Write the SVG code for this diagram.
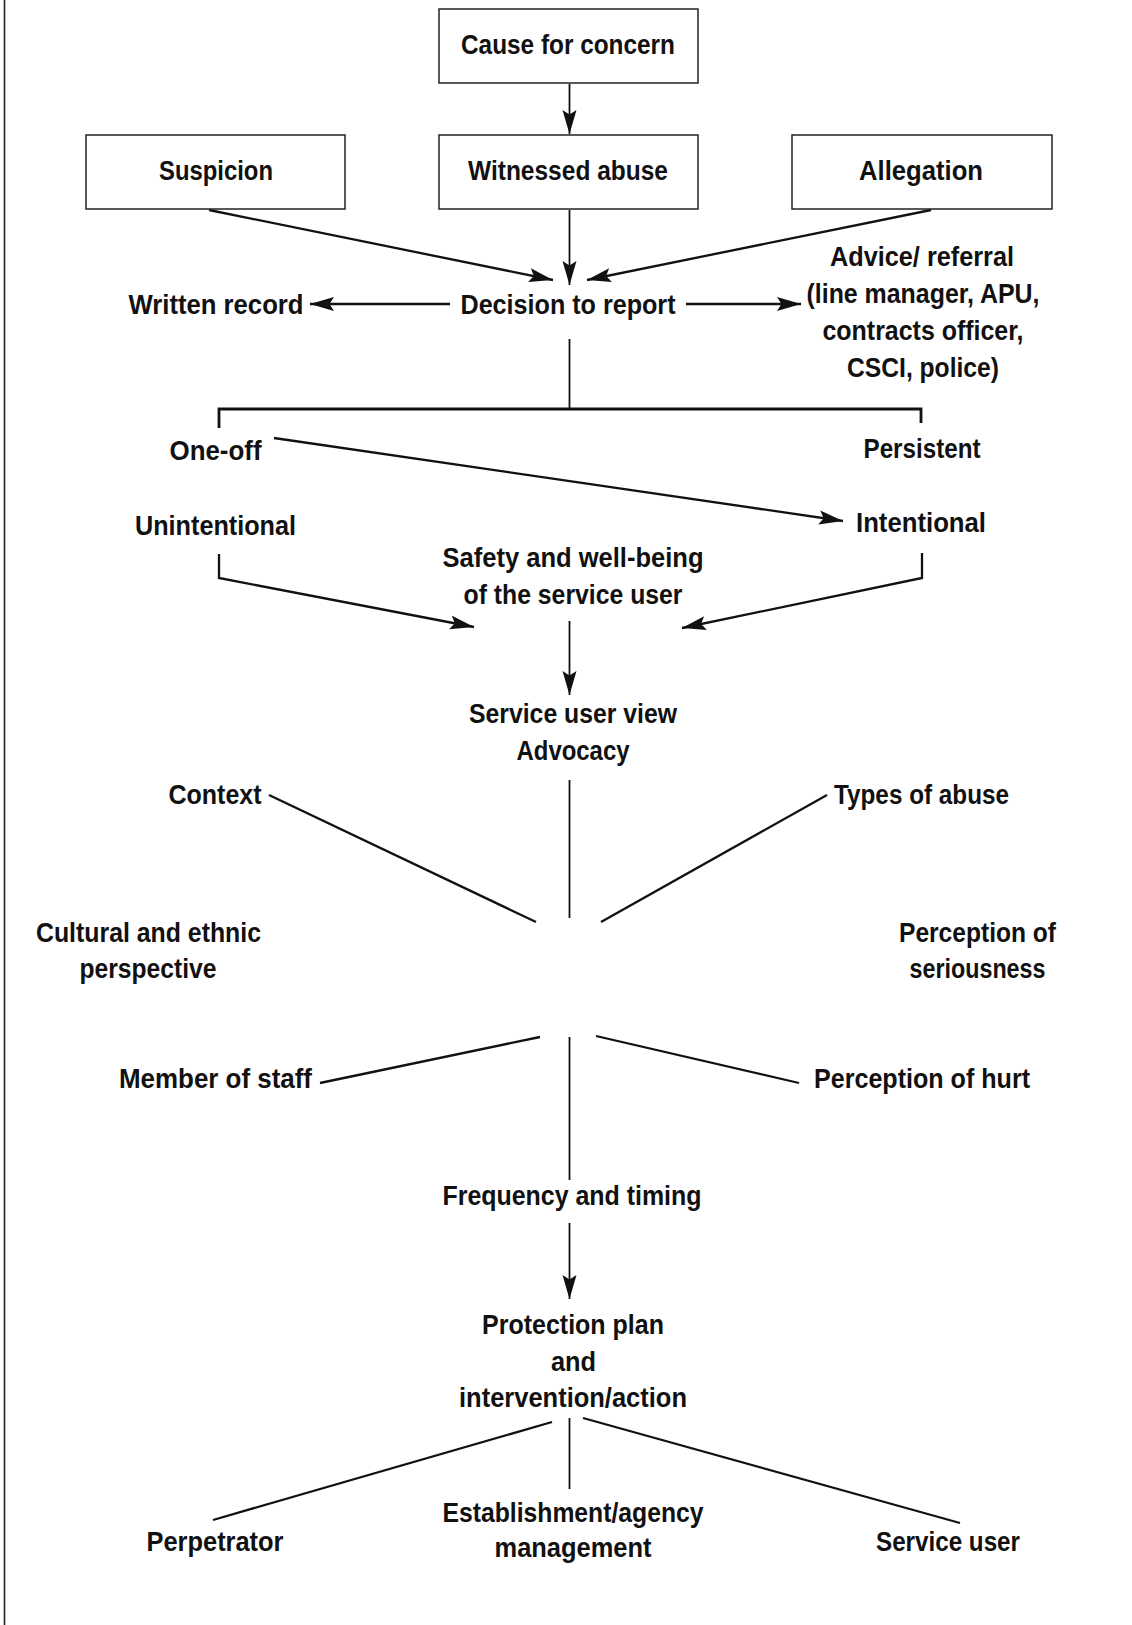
<svg xmlns="http://www.w3.org/2000/svg" width="1132" height="1625" viewBox="0 0 1132 1625">
<style>
.t{font-family:"Liberation Sans","DejaVu Sans",sans-serif;font-weight:bold;font-size:28px;fill:#111;text-anchor:middle}
.box{fill:#fff;stroke:#222;stroke-width:1.5}
.c{stroke:#111;stroke-width:2.3;fill:none}
.v{stroke:#111;stroke-width:1.8;fill:none}
.a{marker-end:url(#ah)}
</style>
<defs>
<marker id="ah" markerUnits="userSpaceOnUse" markerWidth="25" markerHeight="16" refX="24" refY="8" orient="auto">
<path d="M0,1 L24,8 L0,15 L4.5,8 Z" fill="#111"/>
</marker>
</defs>
<rect width="1132" height="1625" fill="#fff"/>
<line x1="4.5" y1="0" x2="4.5" y2="1625" stroke="#222" stroke-width="1.6"/>

<g id="connectors">
<line class="v a" x1="569.5" y1="84" x2="569.5" y2="134"/>
<line class="c a" x1="209" y1="210" x2="553" y2="280"/>
<line class="v a" x1="569.5" y1="210" x2="569.5" y2="285"/>
<line class="c a" x1="931" y1="210" x2="587" y2="280"/>
<line class="c a" x1="450" y1="304" x2="310" y2="304"/>
<line class="c a" x1="686" y1="304" x2="801" y2="304"/>
<line class="v" x1="569.5" y1="339" x2="569.5" y2="409"/>
<polyline class="c" style="stroke-width:2.8" points="219,428 219,409 921,409 921,423"/>
<line class="c a" x1="274" y1="438" x2="843" y2="521"/>
<polyline class="c a" points="219,554 219,578 474,627"/>
<polyline class="c a" points="922,553 922,578 682,628"/>
<line class="v a" x1="569.5" y1="621" x2="569.5" y2="695"/>
<line class="v" x1="569.5" y1="780" x2="569.5" y2="918"/>
<line class="c" x1="269" y1="795" x2="536" y2="922"/>
<line class="c" x1="827" y1="795" x2="601" y2="922"/>
<line class="c" x1="320" y1="1083" x2="540" y2="1037"/>
<line class="c" x1="596" y1="1036" x2="799" y2="1083"/>
<line class="v" x1="569.5" y1="1037" x2="569.5" y2="1180"/>
<line class="v a" x1="569.5" y1="1223" x2="569.5" y2="1299"/>
<line class="v" x1="569.5" y1="1418" x2="569.5" y2="1489"/>
<line class="c" x1="552" y1="1422" x2="213" y2="1520"/>
<line class="c" x1="583" y1="1418" x2="960" y2="1523"/>
</g>

<g id="cause"><rect class="box" x="439" y="9" width="259" height="74"/><text class="t" x="568" y="54" textLength="214" lengthAdjust="spacingAndGlyphs">Cause for concern</text></g>
<g id="suspicion"><rect class="box" x="86" y="135" width="259" height="74"/><text class="t" x="216" y="180" textLength="114" lengthAdjust="spacingAndGlyphs">Suspicion</text></g>
<g id="witnessed"><rect class="box" x="439" y="135" width="259" height="74"/><text class="t" x="568" y="180" textLength="200" lengthAdjust="spacingAndGlyphs">Witnessed abuse</text></g>
<g id="allegation"><rect class="box" x="792" y="135" width="260" height="74"/><text class="t" x="921" y="180" textLength="124" lengthAdjust="spacingAndGlyphs">Allegation</text></g>

<g id="written"><text class="t" x="216" y="314" textLength="175" lengthAdjust="spacingAndGlyphs">Written record</text></g>
<g id="decision"><text class="t" x="568" y="314" textLength="215" lengthAdjust="spacingAndGlyphs">Decision to report</text></g>
<g id="advice">
<text class="t" x="922" y="266" textLength="184" lengthAdjust="spacingAndGlyphs">Advice/ referral</text>
<text class="t" x="923" y="303" textLength="233" lengthAdjust="spacingAndGlyphs">(line manager, APU,</text>
<text class="t" x="923" y="340" textLength="201" lengthAdjust="spacingAndGlyphs">contracts officer,</text>
<text class="t" x="923" y="377" textLength="152" lengthAdjust="spacingAndGlyphs">CSCI, police)</text>
</g>

<g id="oneoff"><text class="t" x="215.5" y="460" textLength="92" lengthAdjust="spacingAndGlyphs">One-off</text></g>
<g id="persistent"><text class="t" x="922" y="458" textLength="117" lengthAdjust="spacingAndGlyphs">Persistent</text></g>
<g id="unintentional"><text class="t" x="215.5" y="535" textLength="161" lengthAdjust="spacingAndGlyphs">Unintentional</text></g>
<g id="intentional"><text class="t" x="921" y="532" textLength="130" lengthAdjust="spacingAndGlyphs">Intentional</text></g>

<g id="safety">
<text class="t" x="573" y="567" textLength="261" lengthAdjust="spacingAndGlyphs">Safety and well-being</text>
<text class="t" x="573" y="604" textLength="219" lengthAdjust="spacingAndGlyphs">of the service user</text>
</g>
<g id="view">
<text class="t" x="573" y="723" textLength="208" lengthAdjust="spacingAndGlyphs">Service user view</text>
<text class="t" x="573" y="760" textLength="113" lengthAdjust="spacingAndGlyphs">Advocacy</text>
</g>

<g id="context"><text class="t" x="215" y="804" textLength="93" lengthAdjust="spacingAndGlyphs">Context</text></g>
<g id="types"><text class="t" x="921.5" y="804" textLength="175" lengthAdjust="spacingAndGlyphs">Types of abuse</text></g>
<g id="cultural">
<text class="t" x="148.5" y="942" textLength="225" lengthAdjust="spacingAndGlyphs">Cultural and ethnic</text>
<text class="t" x="148" y="978" textLength="137" lengthAdjust="spacingAndGlyphs">perspective</text>
</g>
<g id="seriousness">
<text class="t" x="977.5" y="942" textLength="157" lengthAdjust="spacingAndGlyphs">Perception of</text>
<text class="t" x="977.5" y="978" textLength="136" lengthAdjust="spacingAndGlyphs">seriousness</text>
</g>
<g id="staff"><text class="t" x="215.5" y="1088" textLength="193" lengthAdjust="spacingAndGlyphs">Member of staff</text></g>
<g id="hurt"><text class="t" x="922" y="1088" textLength="216" lengthAdjust="spacingAndGlyphs">Perception of hurt</text></g>
<g id="frequency"><text class="t" x="572" y="1205" textLength="259" lengthAdjust="spacingAndGlyphs">Frequency and timing</text></g>
<g id="protection">
<text class="t" x="573" y="1334" textLength="182" lengthAdjust="spacingAndGlyphs">Protection plan</text>
<text class="t" x="573.5" y="1371" textLength="45" lengthAdjust="spacingAndGlyphs">and</text>
<text class="t" x="573" y="1407" textLength="228" lengthAdjust="spacingAndGlyphs">intervention/action</text>
</g>
<g id="perpetrator"><text class="t" x="215" y="1551" textLength="137" lengthAdjust="spacingAndGlyphs">Perpetrator</text></g>
<g id="establishment">
<text class="t" x="573" y="1522" textLength="261" lengthAdjust="spacingAndGlyphs">Establishment/agency</text>
<text class="t" x="573" y="1557" textLength="157" lengthAdjust="spacingAndGlyphs">management</text>
</g>
<g id="serviceuser"><text class="t" x="948" y="1551" textLength="144" lengthAdjust="spacingAndGlyphs">Service user</text></g>
</svg>
